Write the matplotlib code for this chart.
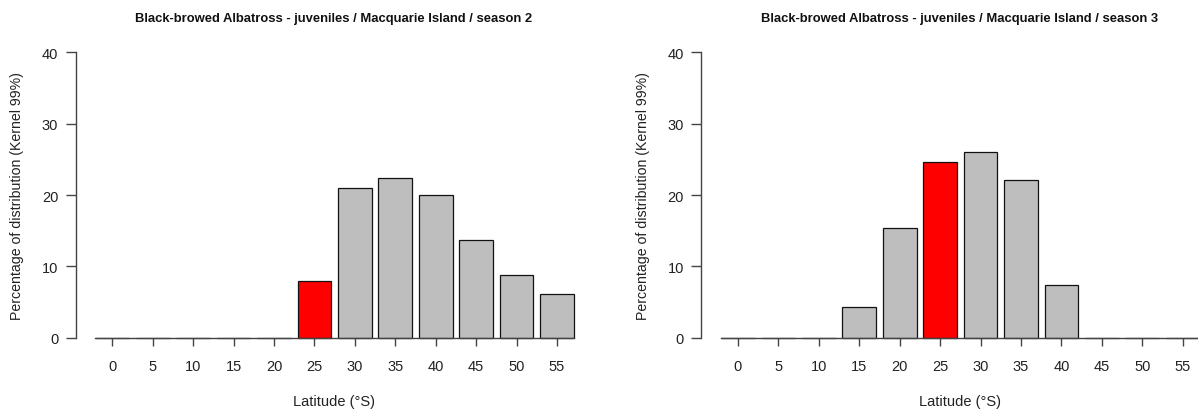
import matplotlib
matplotlib.use("Agg")
import matplotlib.pyplot as plt

# latitude classes (°S) and % of distribution (kernel 99%)
latitudes = [0, 5, 10, 15, 20, 25, 30, 35, 40, 45, 50, 55]
season2 = [0, 0, 0, 0, 0, 7.9, 21.0, 22.4, 20.0, 13.7, 8.8, 6.2]
season3 = [0, 0, 0, 4.3, 15.4, 24.6, 26.0, 22.1, 7.4, 0, 0, 0]
highlight = 25
titles = ["Black-browed Albatross - juveniles / Macquarie Island / season 2",
          "Black-browed Albatross - juveniles / Macquarie Island / season 3"]

plt.rcParams['font.family'] = ['Liberation Sans', 'DejaVu Sans']

W, H = 1198, 414
fig = plt.figure(figsize=(W / 100, H / 100), dpi=100)

bar_w = 1 / 1.2          # R barplot default space=0.2
ylo, yhi = -1.6, 41.6
ax_bottom_px, ax_top_px = 350.4, 41.6
ax_w_px = 516.5


def panel(left_px, values, title):
    ax = fig.add_axes([left_px / W, (H - ax_bottom_px) / H,
                       ax_w_px / W, (ax_bottom_px - ax_top_px) / H])
    x = list(range(len(latitudes)))
    colors = ['#ff0000' if lat == highlight else '#bebebe' for lat in latitudes]
    ax.bar(x, values, width=bar_w, color=colors, edgecolor='#111111', linewidth=0.9)
    ax.set_xlim(-0.905, -0.905 + ax_w_px / 40.43)
    ax.set_ylim(ylo, yhi)

    ax.spines['top'].set_visible(False)
    ax.spines['right'].set_visible(False)
    ax.spines['bottom'].set_position(('data', 0))
    ax.spines['bottom'].set_bounds(-bar_w / 2, len(x) - 1 + bar_w / 2)
    ax.spines['left'].set_bounds(0, 40)
    for s in ('bottom', 'left'):
        ax.spines[s].set_color('#444444')
        ax.spines[s].set_linewidth(1.0)

    ax.set_xticks(x)
    ax.set_xticklabels([str(l) for l in latitudes])
    ax.set_yticks([0, 10, 20, 30, 40])
    ax.tick_params(axis='x', length=5.8, width=1.0, color='#444444', pad=9.5,
                   labelsize=10.5, labelcolor='#222222')
    ax.tick_params(axis='y', length=7, width=1.0, color='#444444', pad=5.5,
                   labelsize=10.5, labelcolor='#222222')

    ax.set_xlabel("Latitude (°S)", fontsize=10.5, color='#222222', va='center')
    ax.xaxis.set_label_coords(0.5, -0.166)
    ax.set_ylabel("Percentage of distribution (Kernel 99%)", fontsize=10.2,
                  color='#222222', va='center')
    ax.yaxis.set_label_coords(-0.114, 0.5)
    ax.set_title(title, fontsize=9.4, fontweight='bold', color='#111111',
                 y=(ax_bottom_px - 19) / (ax_bottom_px - ax_top_px), va='center', pad=0)
    return ax


panel(75.7, season2, titles[0])
panel(701.4, season3, titles[1])

fig.savefig("out.png", dpi=100, facecolor='white')
